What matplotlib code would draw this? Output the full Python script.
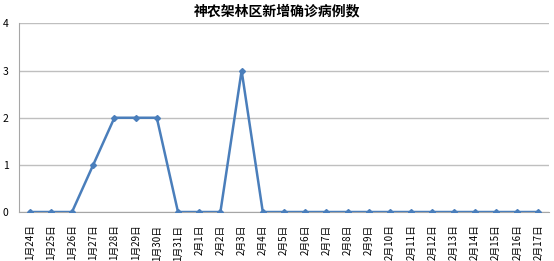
import matplotlib
matplotlib.use("Agg")
import matplotlib.pyplot as plt

plt.rcParams['font.family'] = ['Noto Sans CJK SC', 'DejaVu Sans']

dates = ["1月24日", "1月25日", "1月26日", "1月27日", "1月28日", "1月29日", "1月30日",
         "1月31日", "2月1日", "2月2日", "2月3日", "2月4日", "2月5日", "2月6日",
         "2月7日", "2月8日", "2月9日", "2月10日", "2月11日", "2月12日", "2月13日",
         "2月14日", "2月15日", "2月16日", "2月17日"]
new_cases = [0, 0, 0, 1, 2, 2, 2, 0, 0, 0, 3, 0, 0, 0, 0, 0, 0, 0, 0, 0, 0, 0, 0, 0, 0]
y_ticks = [0, 1, 2, 3, 4]
title = "神农架林区新增确诊病例数"

fig = plt.figure(figsize=(5.54, 2.61), dpi=100)
ax = fig.add_axes([0.0343, 0.1877, 0.9567, 0.7223])

x = list(range(len(dates)))
ax.plot(x, new_cases, color="#4A7EBB", linewidth=1.8, marker="D", markersize=3.0,
        markerfacecolor="#4A7EBB", markeredgecolor="#4A7EBB", zorder=3)

ax.set_xlim(-0.5, len(dates) - 0.5)
ax.set_ylim(0, 4)
ax.set_yticks(y_ticks)
ax.set_yticklabels([str(v) for v in y_ticks], fontsize=7.5, color="#000000")
ax.set_xticks(x)
ax.set_xticklabels(dates, rotation=90, fontsize=7, va="top", ha="center")

ax.grid(axis="y", color="#BFBFBF", linewidth=1.0)
ax.set_axisbelow(True)
for side in ("top", "right"):
    ax.spines[side].set_visible(False)
ax.spines["left"].set_color("#A6A6A6")
ax.spines["bottom"].set_color("#A6A6A6")
ax.tick_params(axis="both", length=0)
ax.tick_params(axis="y", pad=7.5)
ax.tick_params(axis="x", pad=9)

fig.text(0.5, 0.958, title, ha="center", va="center", fontsize=10, fontweight="bold")

fig.savefig("out.png", dpi=100)
